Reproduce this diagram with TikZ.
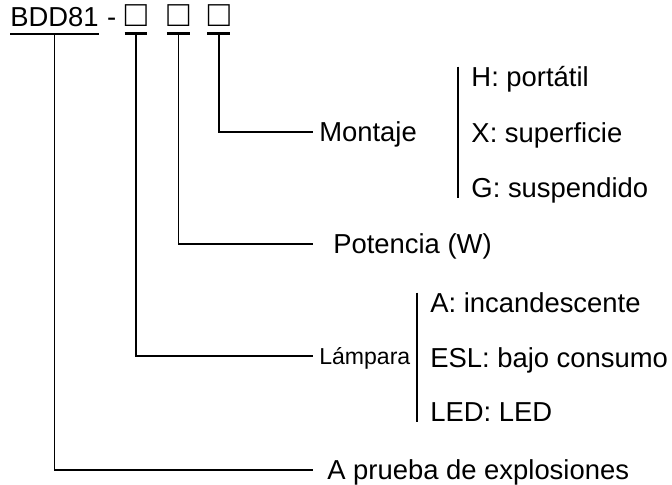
\documentclass[tikz,border=0pt]{standalone}
\usepackage{fontspec}
\setmainfont{Liberation Sans}
\tikzset{
  part/.style={inner xsep=0pt, inner ysep=0.16cm, anchor=base},
  box/.style={part, minimum width=0.56cm, font=\fontsize{26pt}{30pt}\selectfont},
  lbl/.style={anchor=west, inner sep=0pt, text height=14.2pt, text depth=0pt},
  lnk/.style={line width=1.2pt},
  small/.style={font=\fontsize{16.4pt}{20pt}\selectfont, text height=12pt}
}
\begin{document}
\begin{tikzpicture}[font=\fontsize{19.5pt}{23pt}\selectfont]
\useasboundingbox (0,0) rectangle (16.8,-12.125);

\node[part,anchor=base west] (code) at (0.25,-0.675) {BDD81};
\node[anchor=base] (dash) at (2.79,-0.675) {-};
\node[box] (sq1) at (3.4,-0.675) {□};
\node[box] (sq2) at (4.46,-0.675) {□};
\node[box] (sq3) at (5.47,-0.675) {□};
\foreach \n in {code,sq1,sq2,sq3}
{
\draw[line width=1.8pt] (\n.south west) -- (\n.south east);
}

\node[lbl] (montaje) at (7.975,-3.3) {Montaje};
\node[lbl] (potencia) at (8.325,-6.1) {Potencia (W)};
\node[lbl,small] (lampara) at (7.975,-8.9) {Lámpara};
\node[lbl] (prueba) at (8.175,-11.75) {A prueba de explosiones};

\draw[lnk,shorten >=0.15cm] (sq3.south) |- (montaje.west);
\draw[lnk,shorten >=0.5cm] (sq2.south) |- (potencia.west);
\draw[lnk,shorten >=0.15cm] (sq1.south) |- (lampara.west);
\draw[lnk,shorten >=0.35cm] (code.south) |- (prueba.west);

\node[lbl] (portatil) at (11.78,-1.925) {H: portátil};
\node[lbl] (superficie) at (11.78,-3.325) {X: superficie};
\node[lbl] (suspendido) at (11.78,-4.7) {G: suspendido};
\draw[lnk] ([xshift=-0.33cm]portatil.north west) -- ([xshift=-0.33cm]suspendido.south west);

\node[lbl] (incand) at (10.75,-7.575) {A: incandescente};
\node[lbl] (bajo) at (10.75,-8.94) {ESL: bajo consumo};
\node[lbl] (led) at (10.75,-10.29) {LED: LED};
\draw[lnk] ([xshift=-0.33cm]incand.north west) -- ([xshift=-0.33cm]led.south west);
\end{tikzpicture}
\end{document}
